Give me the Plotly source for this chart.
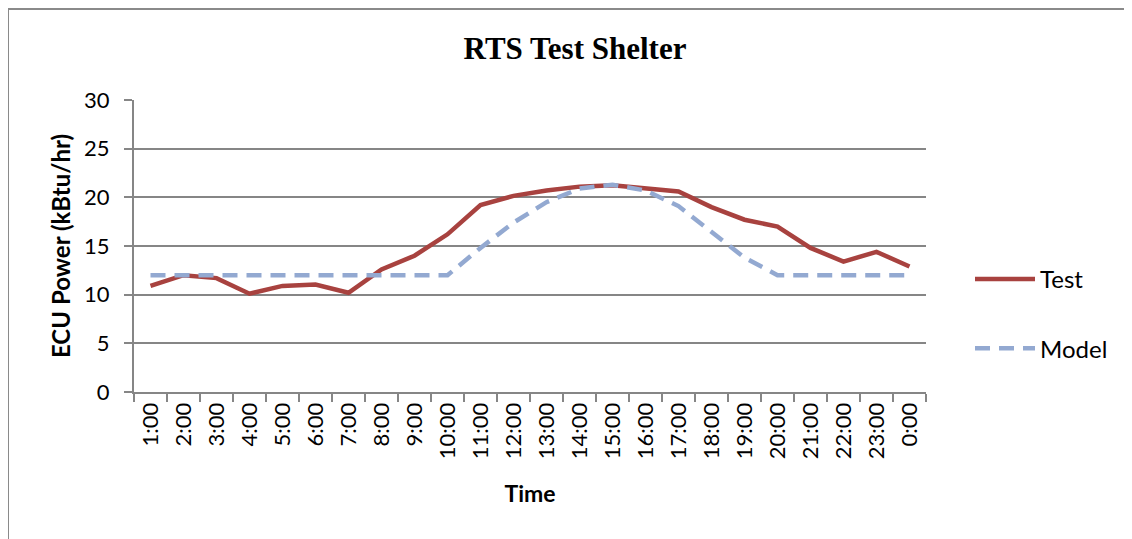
import plotly.graph_objects as go

hours = ["1:00", "2:00", "3:00", "4:00", "5:00", "6:00", "7:00", "8:00", "9:00", "10:00",
         "11:00", "12:00", "13:00", "14:00", "15:00", "16:00", "17:00", "18:00", "19:00",
         "20:00", "21:00", "22:00", "23:00", "0:00"]
test = [10.9, 12.0, 11.7, 10.1, 10.9, 11.05, 10.2, 12.6, 14.0, 16.2, 19.2, 20.15, 20.7,
        21.1, 21.25, 20.9, 20.6, 19.0, 17.7, 17.0, 14.8, 13.4, 14.4, 12.9]
model = [12.0, 12.0, 12.0, 12.0, 12.0, 12.0, 12.0, 12.0, 12.0, 12.0, 14.8, 17.4, 19.5,
         20.9, 21.3, 20.7, 19.1, 16.5, 13.8, 12.0, 12.0, 12.0, 12.0, 12.0]
yticks = [0, 5, 10, 15, 20, 25, 30]

FONT = "Lato, Open Sans, sans-serif"
GRID = "#868686"

# page body has an 8px margin; figure is sized/offset to compensate
W, H = 1124, 531
L, T, R, B = 126, 92, 206, 147
PW = W - L - R
PH = H - T - B

fig = go.Figure()
fig.add_trace(go.Scatter(x=hours, y=test, name="Test", mode="lines",
                         line=dict(color="#A8423F", width=4.5), legendgroup="a"))
fig.add_trace(go.Scatter(x=hours, y=model, name="Model", mode="lines",
                         line=dict(color="#93A9D1", width=4.5, dash="15px,9px"), legendgroup="b"))

fig.update_layout(
    width=W, height=H,
    margin=dict(l=L, r=R, t=T, b=B),
    paper_bgcolor="white", plot_bgcolor="white",
    title=dict(text="<b>RTS Test Shelter</b>", x=(575 - 8) / W, xanchor="center",
               y=1 - (48 - 8) / H, yanchor="middle",
               font=dict(family="Liberation Serif, Times New Roman, serif", size=31, color="black")),
    showlegend=True,
    legend=dict(x=(970 - 134) / PW, y=(392 - 314) / PH, xanchor="left", yanchor="middle",
                tracegroupgap=35, itemwidth=60,
                font=dict(family=FONT, size=24, color="black"),
                bgcolor="rgba(0,0,0,0)"),
    font=dict(family=FONT, size=22, color="black"),
)
fig.update_xaxes(type="category", tickson="boundaries", ticks="outside", ticklen=8,
                 tickcolor=GRID, tickwidth=2, showline=True, linecolor=GRID, linewidth=2,
                 showgrid=False, tickangle=-90, tickfont=dict(family=FONT, size=22),
                 title=dict(text="<b>Time</b>", font=dict(family=FONT, size=23), standoff=28),
                 range=[-0.5, 23.5])
fig.update_yaxes(range=[0, 30], tickvals=yticks, ticks="outside", ticklen=8,
                 tickcolor=GRID, tickwidth=2, showline=True, linecolor=GRID, linewidth=2,
                 showgrid=True, gridcolor=GRID, gridwidth=2, zeroline=False,
                 tickfont=dict(family=FONT, size=22), ticklabelstandoff=10,
                 title=dict(text="<b>ECU Power (kBtu/hr)</b>", font=dict(family=FONT, size=24), standoff=7))

# outer chart border (page coords -> paper coords)
fig.add_shape(type="rect", xref="paper", yref="paper",
              x0=(8 - 134) / PW, x1=(1150 - 134) / PW,
              y0=(392 - 560) / PH, y1=(392 - 9) / PH,
              line=dict(color="#8A8A8A", width=2), fillcolor="rgba(0,0,0,0)", layer="below")

fig.write_html("out.html")
